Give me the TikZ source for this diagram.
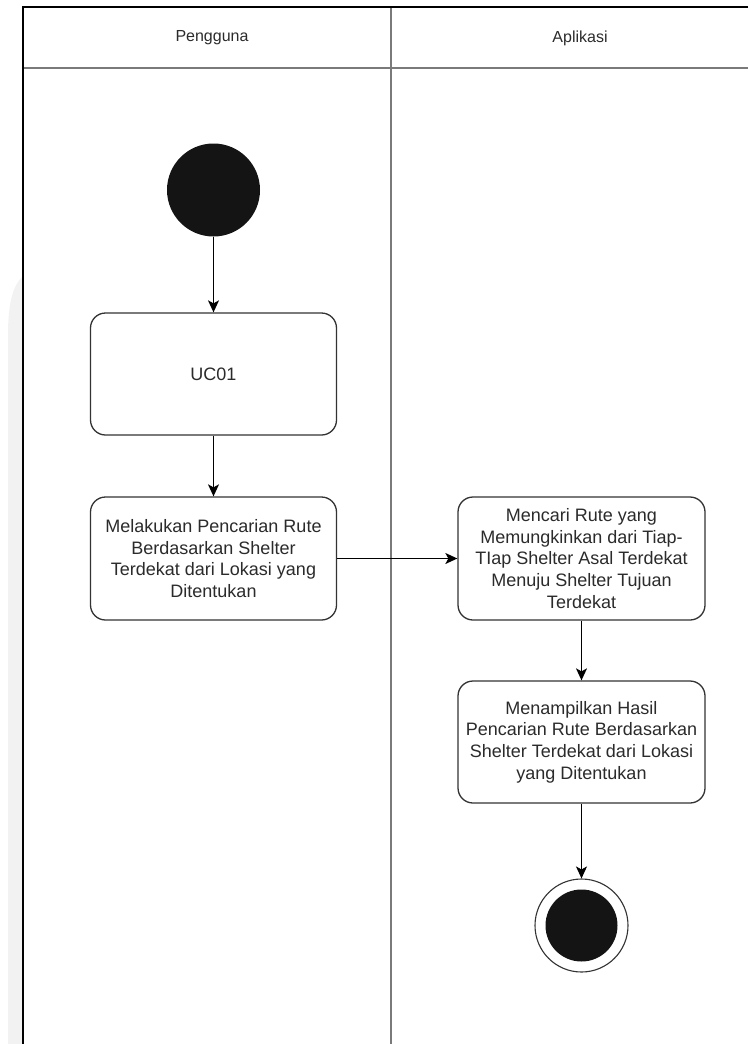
\documentclass[tikz,border=0pt]{standalone}
\usepackage{fontspec}
\setmainfont{Liberation Sans}
\usetikzlibrary{arrows.meta}
\definecolor{linec}{HTML}{333333}
\definecolor{lanec}{HTML}{7A7A7A}
\definecolor{txtc}{HTML}{2B2B2B}
\definecolor{stripc}{HTML}{F2F2F2}
\begin{document}
\begin{tikzpicture}[x=1pt,y=-1pt,
  actbox/.style={draw=linec, line width=1.3pt, rounded corners=15pt, fill=white,
    minimum width=246pt, minimum height=123pt, inner sep=0pt, align=center,
    text=txtc, font=\fontsize{18}{21.6}\selectfont},
  hdr/.style={text=txtc, font=\fontsize{16}{19}\selectfont, inner sep=0pt},
  startnode/.style={circle, fill=black!92, minimum size=93pt, inner sep=0pt},
  endouter/.style={circle, draw=linec, line width=1.1pt, fill=white, minimum size=93pt, inner sep=0pt},
  endinner/.style={circle, fill=black!92, minimum size=72pt, inner sep=0pt},
  flow/.style={draw=black, line width=1.3pt, -{Stealth[length=12pt,width=11pt,inset=3pt]}},
  lane/.style={draw=lanec, line width=1.6pt}
]
\useasboundingbox (0,0) rectangle (748,1044);
% faint strip at the left edge
\fill[stripc] (8,1044) -- (8,335) .. controls (8,300) and (14,285) .. (22,277) -- (22,1044) -- cycle;
% swimlanes
\draw[lane] (23,68) -- (748,68);
\draw[lane] (391,7) -- (391,1044);
\draw[black, line width=1.4pt] (748,7) -- (23,7) -- (23,1044);
\node[hdr] (h1) at (212,38) {Pengguna};
\node[hdr] (h2) at (580,38) {Aplikasi};
% nodes
\node[startnode] (start) at (213.5,190) {};
\node[actbox, minimum height=122pt] (uc) at (213.5,374) {UC01};
\node[actbox] (b2) at (213.5,558.5) {Melakukan Pencarian Rute\\Berdasarkan Shelter\\Terdekat dari Lokasi yang\\Ditentukan};
\node[actbox, minimum width=247pt] (b3) at (581.5,558.5) {Mencari Rute yang\\Memungkinkan dari Tiap-\\TIap Shelter Asal Terdekat\\Menuju Shelter Tujuan\\Terdekat};
\node[actbox, minimum width=247pt, minimum height=122pt] (b4) at (581.5,742) {Menampilkan Hasil\\Pencarian Rute Berdasarkan\\Shelter Terdekat dari Lokasi\\yang Ditentukan};
\node[endouter] (endo) at (581.5,925.5) {};
\node[endinner] (endi) at (endo.center) {};
% connectors
\draw[flow] (start) -- (uc);
\draw[flow] (uc) -- (b2);
\draw[flow] (b2) -- (b3);
\draw[flow] (b3) -- (b4);
\draw[flow] (b4) -- (endo);
\end{tikzpicture}
\end{document}
